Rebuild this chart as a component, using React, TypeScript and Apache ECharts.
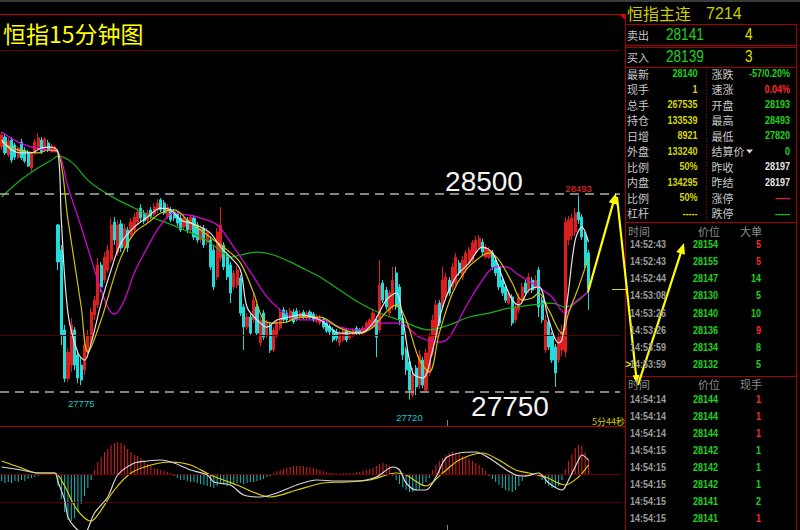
import React, { useEffect, useRef } from 'react';
import * as echarts from 'echarts';

// ---- 15-minute bars: [open, close, low, high] ----
const candles: number[][] = [
  [28677, 28723, 28666, 28734], [28715, 28655, 28647, 28730], [28647, 28700, 28639, 28712], [28704, 28628, 28617, 28715],
  [28685, 28639, 28628, 28693], [28639, 28674, 28632, 28681], [28696, 28636, 28628, 28708], [28666, 28624, 28617, 28677],
  [28655, 28605, 28602, 28666], [28598, 28651, 28583, 28658], [28655, 28696, 28647, 28708], [28677, 28712, 28666, 28730],
  [28704, 28658, 28651, 28715], [28666, 28708, 28658, 28715], [28693, 28666, 28658, 28704], [28662, 28681, 28655, 28689],
  [28666, 28677, 28655, 28685], [28382, 28242, 28211, 28386], [28287, 27965, 27927, 28306], [27984, 27800, 27786, 28003],
  [27800, 27900, 27788, 27916], [27851, 28003, 27825, 28029], [27984, 27851, 27832, 27995], [27889, 27802, 27782, 27908],
  [27851, 27794, 27775, 27878], [27832, 27927, 27813, 27946], [27900, 27965, 27878, 27984], [27946, 28052, 27927, 28067],
  [28041, 28097, 28022, 28113], [28079, 28230, 28067, 28257], [28230, 28147, 28128, 28242], [28173, 28260, 28162, 28279],
  [28211, 28287, 28200, 28306], [28249, 28382, 28238, 28408], [28393, 28325, 28306, 28412], [28276, 28382, 28264, 28401],
  [28386, 28295, 28279, 28401], [28298, 28370, 28287, 28386], [28363, 28295, 28279, 28374], [28344, 28393, 28325, 28408],
  [28363, 28412, 28351, 28427], [28393, 28431, 28382, 28446], [28446, 28408, 28397, 28461], [28427, 28397, 28386, 28439],
  [28401, 28427, 28389, 28439], [28439, 28412, 28405, 28450], [28423, 28450, 28416, 28465], [28439, 28465, 28427, 28480],
  [28477, 28439, 28431, 28484], [28465, 28427, 28420, 28477], [28412, 28450, 28405, 28461], [28439, 28401, 28393, 28450],
  [28431, 28408, 28397, 28442], [28423, 28389, 28378, 28435], [28408, 28363, 28355, 28420], [28374, 28408, 28363, 28420],
  [28401, 28363, 28351, 28412], [28363, 28412, 28355, 28423], [28408, 28336, 28325, 28420], [28382, 28325, 28314, 28393],
  [28325, 28370, 28314, 28382], [28370, 28306, 28295, 28382], [28317, 28355, 28306, 28370], [28325, 28223, 28211, 28340],
  [28287, 28147, 28135, 28302], [28185, 28355, 28173, 28370], [28257, 28382, 28242, 28450], [28306, 28223, 28211, 28317],
  [28268, 28185, 28173, 28279], [28230, 28124, 28086, 28242], [28147, 28200, 28135, 28211], [28154, 28211, 28143, 28226],
  [28181, 28048, 28037, 28192], [28071, 27995, 27908, 28082], [27995, 28033, 27984, 28048], [28033, 27972, 27961, 28044],
  [28022, 28097, 28010, 28124], [28071, 27972, 27961, 28082], [27935, 28022, 27923, 28033], [28048, 27957, 27946, 28060],
  [27965, 28014, 27953, 28022], [28003, 27908, 27897, 28014], [27908, 27984, 27900, 27995], [27965, 28014, 27953, 28025],
  [27991, 28052, 27984, 28067], [28060, 28022, 28014, 28071], [28048, 28022, 28010, 28060], [28022, 28056, 28014, 28067],
  [28052, 28014, 28007, 28063], [28056, 28025, 28018, 28067], [28029, 28048, 28022, 28060], [28052, 28033, 28025, 28060],
  [28029, 28048, 28022, 28056], [28052, 28033, 28025, 28060], [28044, 28022, 28014, 28052], [28018, 28033, 28010, 28044],
  [28010, 28029, 28003, 28041], [28025, 27995, 27988, 28033], [28010, 27980, 27972, 28022], [27999, 27976, 27965, 28007],
  [27984, 27946, 27938, 27995], [27976, 27953, 27942, 27988], [27935, 27969, 27923, 27980], [27946, 27980, 27938, 27988],
  [27980, 27946, 27938, 27988], [27953, 27972, 27946, 27980], [27965, 27984, 27957, 27991], [27991, 27972, 27965, 27999],
  [27984, 27972, 27965, 27991], [27972, 27991, 27965, 27999], [27984, 28010, 27976, 28018], [27995, 28022, 27988, 28029],
  [27995, 28048, 27988, 28060], [28022, 27957, 27881, 28037], [27984, 28154, 27972, 28249], [28162, 28097, 28086, 28173],
  [28135, 28071, 28060, 28147], [28048, 28124, 28037, 28135], [28071, 28173, 28060, 28223], [28200, 28071, 28060, 28223],
  [28147, 28022, 28003, 28158], [28029, 27889, 27870, 28041], [27908, 27832, 27813, 27919], [27863, 27756, 27720, 27878],
  [27737, 27813, 27728, 27840], [27840, 27768, 27737, 27851], [27775, 27889, 27760, 27908], [27870, 27775, 27764, 27881],
  [27756, 27897, 27745, 27912], [27821, 27957, 27809, 27972], [27897, 28022, 27885, 28041], [27957, 28079, 27946, 28097],
  [28086, 28010, 27999, 28097], [28071, 28173, 28060, 28223], [28109, 28185, 28097, 28200], [28173, 28124, 28113, 28185],
  [28147, 28223, 28135, 28238], [28162, 28260, 28151, 28276], [28238, 28200, 28188, 28249], [28185, 28249, 28173, 28264],
  [28211, 28276, 28200, 28287], [28238, 28287, 28230, 28298], [28249, 28314, 28242, 28325], [28276, 28325, 28268, 28340],
  [28298, 28332, 28291, 28344], [28317, 28279, 28268, 28329], [28260, 28298, 28253, 28310], [28260, 28287, 28253, 28298],
  [28276, 28223, 28211, 28287], [28249, 28200, 28188, 28260], [28223, 28147, 28135, 28234], [28173, 28124, 28113, 28185],
  [28147, 28097, 28086, 28158], [28086, 28124, 28079, 28135], [28109, 28010, 27999, 28120], [28022, 28071, 28010, 28086],
  [28060, 28109, 28048, 28124], [28097, 28147, 28086, 28162], [28162, 28124, 28113, 28173], [28135, 28185, 28124, 28200],
  [28173, 28135, 28124, 28185], [28147, 28173, 28135, 28192], [28211, 28071, 28033, 28223], [28097, 28022, 28010, 28109],
  [27908, 28022, 27897, 28041], [28014, 27919, 27908, 28029], [27965, 27870, 27859, 27976], [27919, 27821, 27768, 27931],
  [27870, 27957, 27859, 27972], [27908, 27972, 27885, 28003], [27900, 28393, 27881, 28412], [28325, 28401, 28306, 28416],
  [28340, 28408, 28325, 28423], [28355, 28427, 28340, 28446], [28431, 28401, 28386, 28493], [28412, 28336, 28325, 28423],
  [28344, 28230, 28219, 28355], [28276, 28140, 28060, 28287],
];

// moving averages sampled as [bar index, price]
const ma5Pts: number[][] = [
  [0, 28704], [3, 28666], [6, 28655], [9, 28655], [12, 28674], [15, 28677], [17, 28658], [18, 28401], [20, 28048],
  [23, 27897], [25, 27870], [27, 27935], [30, 28086], [33, 28211], [36, 28314], [40, 28374], [44, 28412], [48, 28446],
  [51, 28439], [54, 28401], [57, 28389], [60, 28374], [63, 28351], [66, 28298], [69, 28260], [72, 28211], [74, 28071],
  [77, 28022], [80, 27995], [83, 28022], [87, 28033], [90, 28041], [96, 28022], [102, 27972], [108, 27972], [112, 28010],
  [116, 28097], [119, 28124], [121, 28022], [124, 27821], [127, 27802], [130, 27908], [133, 28071], [137, 28185],
  [141, 28238], [145, 28298], [148, 28276], [151, 28185], [154, 28097], [156, 28079], [159, 28135], [162, 28147],
  [165, 28022], [168, 27935], [169, 27946], [171, 28135], [173, 28325], [175, 28374], [177, 28317],
];
const ma10Pts: number[][] = [
  [0, 28696], [3, 28674], [8, 28658], [11, 28655], [14, 28666], [17, 28658], [20, 28401], [24, 28071], [26, 27900],
  [30, 28022], [33, 28147], [36, 28260], [40, 28351], [44, 28389], [48, 28427], [52, 28439], [56, 28401], [60, 28363],
  [64, 28325], [68, 28287], [72, 28238], [76, 28124], [79, 28022], [82, 28010], [86, 28014], [90, 28033], [96, 28033],
  [102, 27991], [108, 27972], [112, 27995], [116, 28052], [119, 28079], [122, 28022], [126, 27870], [129, 27825],
  [132, 27972], [136, 28124], [140, 28211], [144, 28257], [147, 28276], [150, 28249], [154, 28162], [157, 28097],
  [160, 28105], [162, 28124], [165, 28060], [169, 27972], [171, 28048], [174, 28147], [177, 28257],
];
const ma20Pts: number[][] = [
  [0, 28734], [5, 28696], [10, 28674], [15, 28662], [17, 28658], [20, 28526], [24, 28374], [29, 28173], [32, 28071],
  [34, 28044], [37, 28097], [40, 28200], [44, 28298], [48, 28382], [52, 28427], [56, 28420], [60, 28408], [65, 28382],
  [70, 28298], [76, 28185], [80, 28109], [84, 28060], [88, 28029], [90, 28022], [96, 28022], [102, 27995], [108, 27984],
  [114, 28010], [120, 28010], [126, 27957], [132, 27938], [135, 27957], [140, 28071], [145, 28173], [149, 28223],
  [152, 28223], [156, 28192], [161, 28154], [164, 28128], [166, 28109], [170, 28048], [173, 28090], [177, 28128],
];
const ma60Pts: number[][] = [
  [0, 28488], [5, 28545], [10, 28590], [15, 28628], [17, 28643], [21, 28621], [26, 28552], [30, 28514], [35, 28477],
  [40, 28446], [45, 28412], [50, 28389], [55, 28363], [60, 28336], [65, 28295], [69, 28260], [72, 28268], [77, 28279],
  [82, 28268], [87, 28242], [90, 28223], [96, 28185], [102, 28135], [108, 28086], [114, 28048], [120, 28022],
  [129, 27984], [135, 28003], [141, 28033], [147, 28048], [153, 28067], [160, 28079], [166, 28086], [170, 28071],
  [173, 28086], [177, 28132],
];

// MACD histogram, one value per bar
const macdHist: number[] = [
  -7, -9, -8, -9, -7, -8, -6, -7, -5, -4, -3,
  -2, -1, -1, -1, -1, -1,
  -12, -25, -38, -46, -47, -44, -38, -30, -22, -14, -6,
  4, 12, 17, 22, 25, 29, 31, 32, 31, 29, 25, 22, 19, 18, 16, 13, 10, 8, 6, 5, 4, 3, 2, 1,
  -2, -4, -6, -6, -7, -8, -8, -9, -10, -11, -12, -13, -14, -12, -10, -11, -12, -10, -9, -9, -9, -10, -9, -8, -8, -7, -6, -5, -3, -2,
  1, 3, 4, 5, 6, 7, 8, 8, 8, 8, 7, 7, 6, 5, 4, 3, 2, 1, 1, 0.5, 0.5, 1, 1, 1, 1, 2, 2, 3, 4, 5, 6, 8, 10, 11, 10, 8,
  -2, -6, -10, -13, -16, -18, -18, -17, -15, -12, -8, -4,
  4, 9, 13, 16, 19, 21, 22, 21, 20, 18, 17, 15, 13, 11, 9, 6, 3,
  -2, -5, -8, -11, -14, -16, -17, -18, -16, -12, -7, -3,
  -1, -1, 0.5, -1,
  -6, -10, -12, -14, -14, -12, -6,
  5, 13, 20, 26, 29, 28, 22, 14,
];
// DIF and DEA sampled as [bar index, value]
const difPts: number[][] = [
  [0, 7], [6, 4], [11, 1], [16, 1], [17, -8], [19, -26], [20, -43], [22, -53], [25, -60], [26, -55], [28, -39],
  [32, -23], [35, -1], [40, 11], [44, 13], [48, 14], [52, 11], [57, 4], [62, -1], [64, -8], [69, -11], [73, -21],
  [78, -23], [83, -19], [89, -11], [95, -6], [101, -7], [107, -7], [113, -3], [118, 7], [120, 4], [122, -9],
  [125, -16], [128, -16], [131, -3], [134, 16], [138, 21], [143, 22], [147, 16], [151, 7], [155, -1], [158, -2],
  [162, 1], [165, -9], [169, -16], [171, -6], [174, 14], [175, 19], [177, 14],
];
const deaPts: number[][] = [
  [0, 13], [6, 6], [11, 1], [16, 1], [19, -12], [22, -32], [25, -44], [27, -47], [29, -41], [34, -16], [39, 1],
  [45, 9], [51, 12], [57, 9], [63, -1], [71, -11], [81, -23], [89, -16], [97, -9], [104, -8], [111, -6], [119, 1],
  [122, -1], [128, -12], [133, 1], [138, 14], [145, 21], [150, 14], [155, 4], [159, 1], [164, -3], [170, -11],
  [174, -3], [177, 9],
];

const resistance = 28500;
const support = 27750;
const midGuide = 27965;
const lastPrice = 28140;
const highMark = [174, 28493];
const lowMarks = [[24, 27775], [123, 27720]];
const countdown = '5分44秒';

const chartTitle = '恒指15分钟图';
const contractName = '恒指主连';
const contractCode = '7214';
const askQuote = ['卖出', '28141', '4'];
const bidQuote = ['买入', '28139', '3'];
// [label, value, tone]
const statsLeft = [
  ['最新', '28140', 'dn'], ['现手', '1', 'neu'], ['总手', '267535', 'neu'], ['持仓', '133539', 'neu'], ['日增', '8921', 'neu'],
  ['外盘', '133240', 'neu'], ['比例', '50%', 'neu'], ['内盘', '134295', 'neu'], ['比例', '50%', 'neu'], ['杠杆', '-----', 'neu'],
];
const statsRight = [
  ['涨跌', '-57/0.20%', 'dn'], ['速涨', '0.04%', 'up'], ['开盘', '28193', 'dn'], ['最高', '28493', 'dn'], ['最低', '27820', 'dn'],
  ['结算价', '0', 'dn'], ['昨收', '28197', 'flat'], ['昨结', '28197', 'flat'], ['涨停', '-----', 'up'], ['跌停', '-----', 'dn'],
];
const bigOrderHead = ['时间', '价位', '大单'];
const bigOrders = [
  ['14:52:43', '28154', '5', 'up'], ['14:52:43', '28155', '5', 'up'], ['14:52:44', '28147', '14', 'dn'],
  ['14:53:08', '28130', '5', 'dn'], ['14:53:26', '28140', '10', 'dn'], ['14:53:26', '28136', '9', 'up'],
  ['14:53:59', '28134', '8', 'dn'], ['14:53:59', '28132', '5', 'dn'],
];
const tradeHead = ['时间', '价位', '现手'];
const trades = [
  ['14:54:14', '28144', '1', 'up'], ['14:54:14', '28144', '1', 'up'], ['14:54:14', '28144', '1', 'up'],
  ['14:54:15', '28142', '1', 'dn'], ['14:54:15', '28142', '1', 'dn'], ['14:54:15', '28142', '1', 'dn'],
  ['14:54:15', '28141', '2', 'dn'], ['14:54:15', '28141', '1', 'up'],
];

const EMPTY_SLOTS = 9; // room to the right of the last bar
const categories = Array.from({ length: candles.length + EMPTY_SLOTS }, (_, i) => String(i));

const SANS = '"Liberation Sans", Arial, sans-serif';
const CJK = '"Noto Sans CJK SC", "Noto Sans", sans-serif';
const TONE: Record<string, string> = { up: '#ff2b2b', dn: '#1fd21f', neu: '#d6d600', flat: '#e6e6e6' };
const UP = '#dc1e1e';
const DOWN = '#22dcdc';
const BORDER = '#a80000';
const LABEL = '#c8c8c8';

type TxtOpt = { align?: string; family?: string; weight?: string; sx?: number };
function txt(x: number, y: number, s: string, fill: string, size: number, o: TxtOpt = {}) {
  const align = o.align ?? 'left';
  return {
    type: 'text', x, y, scaleX: o.sx ?? 1, silent: true, z: 20,
    style: {
      text: s, fill, fontSize: size, fontFamily: o.family ?? SANS, fontWeight: o.weight ?? 'normal',
      textAlign: align, textVerticalAlign: 'middle', align, verticalAlign: 'middle',
    },
  };
}
function line(x1: number, y1: number, x2: number, y2: number, stroke: string, w = 1, dash?: number[]) {
  return { type: 'line', silent: true, z: 15, shape: { x1, y1, x2, y2 }, style: { stroke, lineWidth: w, lineDash: dash } };
}
function arrow(from: number[], to: number[], head: number, half: number) {
  const dx = to[0] - from[0];
  const dy = to[1] - from[1];
  const d = Math.hypot(dx, dy);
  const ux = dx / d;
  const uy = dy / d;
  const bx = to[0] - ux * head;
  const by = to[1] - uy * head;
  return [
    line(from[0], from[1], bx + ux * 2, by + uy * 2, '#ffff00', 2.2),
    {
      type: 'polygon', silent: true, z: 16,
      shape: { points: [[to[0], to[1]], [bx - uy * half, by + ux * half], [bx + uy * half, by - ux * half]] },
      style: { fill: '#ffff00' },
    },
  ];
}

function buildGraphics(yLast: number) {
  const els: any[] = [];
  // frame
  els.push({ type: 'rect', silent: true, shape: { x: 0, y: 0, width: 800, height: 2 }, style: { fill: '#3a3a3a' } });
  els.push(line(0, 14.5, 620, 14.5, '#c40000'));
  els.push({ type: 'polygon', silent: true, shape: { points: [[619, 14], [626, 14], [626, 21]] }, style: { fill: '#d80000' } });
  els.push(line(0, 50.5, 620, 50.5, '#6a0000'));
  els.push(line(0, 426.5, 625, 426.5, '#b00000'));
  els.push(line(625.5, 14, 625.5, 530, BORDER));
  els.push(line(796.5, 24, 796.5, 530, BORDER));
  [24.5, 45.5, 47.5, 67.5, 222.5, 376.5].forEach((y) => els.push(line(625, y, 797, y, BORDER)));
  els.push(line(706.5, 69, 706.5, 222, BORDER, 1, [1, 2]));
  els.push(line(447.5, 420, 447.5, 426, '#808080'));
  els.push(line(447.5, 525, 447.5, 530, '#808080'));

  // titles
  els.push(txt(3, 33, chartTitle, '#ffff00', 23, { family: CJK }));
  els.push(txt(627, 13, contractName, '#cccc00', 16, { family: CJK }));
  els.push(txt(706, 13, contractCode, '#cccc00', 16));

  // bid / ask boxes
  [[askQuote, 35], [bidQuote, 56.5]].forEach(([q, y]: any) => {
    els.push(txt(627, y, q[0], LABEL, 11, { family: CJK }));
    els.push(txt(666, y, q[1], TONE.dn, 16, { sx: 0.85 }));
    els.push(txt(745, y, q[2], '#e0e000', 16, { sx: 0.85 }));
  });

  // quote statistics
  statsLeft.forEach(([label, val, tone], k) => {
    const y = 73.5 + k * 15.5;
    els.push(txt(627, y, label, LABEL, 11, { family: CJK }));
    els.push(txt(697.5, y, val, TONE[tone], 11, { align: 'right', weight: 'bold', sx: 0.82 }));
  });
  statsRight.forEach(([label, val, tone], k) => {
    const y = 73.5 + k * 15.5;
    els.push(txt(711.5, y, label, LABEL, 11, { family: CJK }));
    els.push(txt(790, y, val, TONE[tone], 11, { align: 'right', weight: 'bold', sx: 0.82 }));
    if (label === '结算价') {
      els.push({ type: 'polygon', silent: true, shape: { points: [[746, y - 1.5], [753, y - 1.5], [749.5, y + 2.5]] }, style: { fill: '#d8d8d8' } });
    }
  });

  // tick tables
  const table = (head: string[], rows: string[][], headY: number, rowY: number, step: number, mark: boolean) => {
    els.push(txt(628, headY, head[0], '#8c8c8c', 11, { family: CJK }));
    els.push(txt(698, headY, head[1], '#8c8c8c', 11, { family: CJK }));
    els.push(txt(740, headY, head[2], '#8c8c8c', 11, { family: CJK }));
    rows.forEach(([t, p, q, tone], k) => {
      const y = rowY + k * step;
      els.push(txt(630, y, t, '#9c9c9c', 11, { weight: 'bold', sx: 0.82 }));
      els.push(txt(718, y, p, TONE.dn, 11, { align: 'right', weight: 'bold', sx: 0.82 }));
      els.push(txt(761, y, q, TONE[tone], 11, { align: 'right', weight: 'bold', sx: 0.82 }));
      if (mark && k === rows.length - 1) els.push(txt(625.5, y, '>', '#e0e000', 10, { weight: 'bold' }));
    });
  };
  table(bigOrderHead, bigOrders, 231, 244.3, 17.1, true);
  table(tradeHead, trades, 384, 399.3, 17.05, false);

  // annotations
  els.push(txt(484, 181, String(resistance), '#f4f4f4', 28, { align: 'center' }));
  els.push(txt(510, 406, String(support), '#f4f4f4', 28, { align: 'center' }));
  els.push(txt(592, 421, countdown, '#c8c800', 9, { family: CJK }));
  els.push(line(612, Math.round(yLast) + 0.5, 626, Math.round(yLast) + 0.5, '#d8d800'));
  els.push(...arrow([588, 292], [616, 193], 11, 4.5));
  els.push(...arrow([617, 197], [637, 384], 9, 3.5));
  els.push(...arrow([638, 385], [684, 243], 11, 4.5));
  return els;
}

function buildOption() {
  const maLine = (data: number[][], color: string, z: number) => ({
    type: 'line', xAxisIndex: 0, yAxisIndex: 0, data, smooth: 0.35, symbol: 'none', silent: true, z,
    lineStyle: { color, width: 1.2 },
  });
  return {
    animation: false,
    backgroundColor: '#000000',
    grid: [
      { left: 0, top: 50, width: 620, height: 376 },
      { left: 0, top: 426, width: 620, height: 104 },
    ],
    xAxis: [
      { type: 'category', gridIndex: 0, data: categories, boundaryGap: true, show: false },
      { type: 'category', gridIndex: 1, data: categories, boundaryGap: true, show: false },
    ],
    yAxis: [
      { type: 'value', gridIndex: 0, min: 27620, max: 29045, show: false },
      { type: 'value', gridIndex: 1, min: -56, max: 48, show: false },
    ],
    series: [
      {
        type: 'candlestick', xAxisIndex: 0, yAxisIndex: 0, data: candles, barWidth: 2.6, silent: true, z: 2,
        itemStyle: { color: UP, color0: DOWN, borderColor: UP, borderColor0: DOWN, borderWidth: 1 },
        markLine: {
          silent: true, symbol: ['none', 'none'], label: { show: false }, animation: false,
          data: [
            { yAxis: midGuide, lineStyle: { color: '#520000', width: 1, type: 'solid' } },
            { yAxis: resistance, lineStyle: { color: '#b0b0b0', width: 1.6, type: [9, 6] } },
            { yAxis: support, lineStyle: { color: '#b0b0b0', width: 1.6, type: [9, 6] } },
          ],
        },
        markPoint: {
          silent: true, symbol: 'circle', symbolSize: 1, itemStyle: { color: 'rgba(0,0,0,0)' },
          label: { show: true, fontSize: 9.5, fontFamily: SANS, formatter: (p: any) => String(p.value) },
          data: [
            { coord: highMark, value: highMark[1], label: { position: 'top', distance: 2, color: '#ff2d2d' } },
            ...lowMarks.map((m, k) => ({
              coord: m, value: m[1], label: { position: 'bottom', distance: k === 0 ? 13 : 12, color: '#1ec8c8' },
            })),
          ],
        },
      },
      maLine(ma60Pts, '#18b018', 3),
      maLine(ma20Pts, '#e000e0', 4),
      maLine(ma10Pts, '#d4c400', 5),
      maLine(ma5Pts, '#e4e4e4', 6),
      {
        type: 'bar', xAxisIndex: 1, yAxisIndex: 1, data: macdHist, barWidth: 1, silent: true,
        itemStyle: { color: (p: any) => (p.value >= 0 ? '#e02020' : '#18bcbc') },
        markLine: {
          silent: true, symbol: ['none', 'none'], label: { show: false }, animation: false,
          data: [
            { yAxis: 0, lineStyle: { color: '#700000', width: 1, type: 'solid' } },
            { yAxis: -28, lineStyle: { color: '#560000', width: 1, type: 'solid' } },
          ],
        },
      },
      {
        type: 'line', xAxisIndex: 1, yAxisIndex: 1, data: difPts, smooth: 0.3, symbol: 'none', silent: true, z: 5,
        lineStyle: { color: '#d8d8d8', width: 1.2 },
      },
      {
        type: 'line', xAxisIndex: 1, yAxisIndex: 1, data: deaPts, smooth: 0.3, symbol: 'none', silent: true, z: 4,
        lineStyle: { color: '#e0d000', width: 1.2 },
      },
    ],
  };
}

export default function App() {
  const ref = useRef<HTMLDivElement>(null);
  useEffect(() => {
    if (!ref.current) return;
    const chart = echarts.init(ref.current, undefined, { renderer: 'svg' });
    chart.setOption(buildOption() as any);
    const yLast = chart.convertToPixel({ yAxisIndex: 0 }, lastPrice) as unknown as number;
    chart.setOption({ graphic: { elements: buildGraphics(yLast) } } as any);
    return () => chart.dispose();
  }, []);
  return (
    <div
      ref={ref}
      style={{ position: 'absolute', left: 0, top: 0, width: 800, height: 530, background: '#000' }}
    />
  );
}
